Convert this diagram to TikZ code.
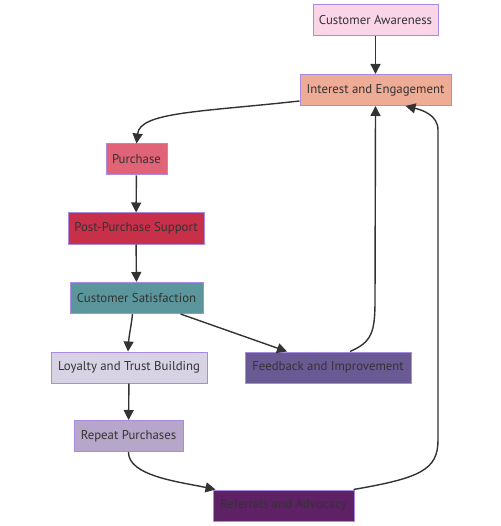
\documentclass[tikz,border=0pt]{standalone}
\usepackage{fontspec}
\setmainfont{PT Sans}
\usetikzlibrary{arrows.meta,positioning,calc}
\definecolor{edgeclr}{HTML}{333333}
\definecolor{boxline}{HTML}{A98BE2}
\definecolor{awareness}{HTML}{FAD5E7}
\definecolor{interest}{HTML}{EEAB95}
\definecolor{purchase}{HTML}{E06377}
\definecolor{support}{HTML}{C8304A}
\definecolor{satisfy}{HTML}{5B969C}
\definecolor{loyalty}{HTML}{D7D3E4}
\definecolor{feedback}{HTML}{6A5A94}
\definecolor{repeat}{HTML}{B6A6C9}
\definecolor{referral}{HTML}{5E2166}

\tikzset{
  stage/.style={draw=boxline,line width=1pt,minimum height=31pt,inner xsep=4pt,text=edgeclr,font=\fontsize{12.8}{15}\selectfont},
  flow/.style={-{Triangle[length=10pt,width=10pt]},edgeclr,line width=1.4pt}
}

\begin{document}
\begin{tikzpicture}[x=1pt,y=-1pt]
        \useasboundingbox (0,0) rectangle (500,526);
        \node[stage,fill=awareness,minimum width=125pt] (aware) at (375.5,20.5) {Customer Awareness};
        \node[stage,fill=interest,minimum width=151pt] (inter) at (375.5,90) {Interest and Engagement};
        \node[stage,fill=purchase,minimum width=61pt] (buy) at (136.5,159.5) {Purchase};
        \node[stage,fill=support,minimum width=136pt] (post) at (136,228.5) {Post-Purchase Support};
        \node[stage,fill=satisfy,minimum width=133pt] (satis) at (136.5,298) {Customer Satisfaction};
        \node[stage,fill=loyalty,minimum width=156pt] (loyal) at (129,367.5) {Loyalty and Trust Building};
        \node[stage,fill=feedback,minimum width=166pt] (fback) at (328,367.5) {Feedback and Improvement};
        \node[stage,fill=repeat,minimum width=109pt] (rpt) at (128.5,436) {Repeat Purchases};
        \node[stage,fill=referral,minimum width=141pt] (refer) at (283.5,505.5) {Referrals and Advocacy};
        % bends of the loops back to the top
        \coordinate (fbup) at (375,300);
        \coordinate (refup) at (438,440);
        \coordinate (reftop) at (438,130);
        \draw[flow] (aware) -- (inter);
        \draw[flow] ([yshift=-11pt]inter.west) .. controls (200,112) and (140,112) .. (buy.north);
        \draw[flow] (buy) -- (post);
        \draw[flow] (post) -- (satis);
        \draw[flow] ([xshift=-4pt]satis.south) .. controls (131,328) and (129,335) .. ([xshift=-1pt]loyal.north);
        \draw[flow] ([xshift=44pt]satis.south) -- ([xshift=-41pt]fback.north);
        \draw[flow] ([xshift=22pt]fback.north) .. controls (372,342) and (375,332) .. (fbup) -- (inter.south);
        \draw[flow] (loyal) -- (rpt);
        \draw[flow] (rpt.south) .. controls (128,476) and (180,482) .. ([xshift=-68pt]refer.north);
        \draw[flow] ([xshift=70pt]refer.north) .. controls (420,478) and (438,470) .. (refup) -- (reftop) .. controls (438,115) and (422,110) .. ([xshift=30pt]inter.south);
      \end{tikzpicture}
\end{document}
